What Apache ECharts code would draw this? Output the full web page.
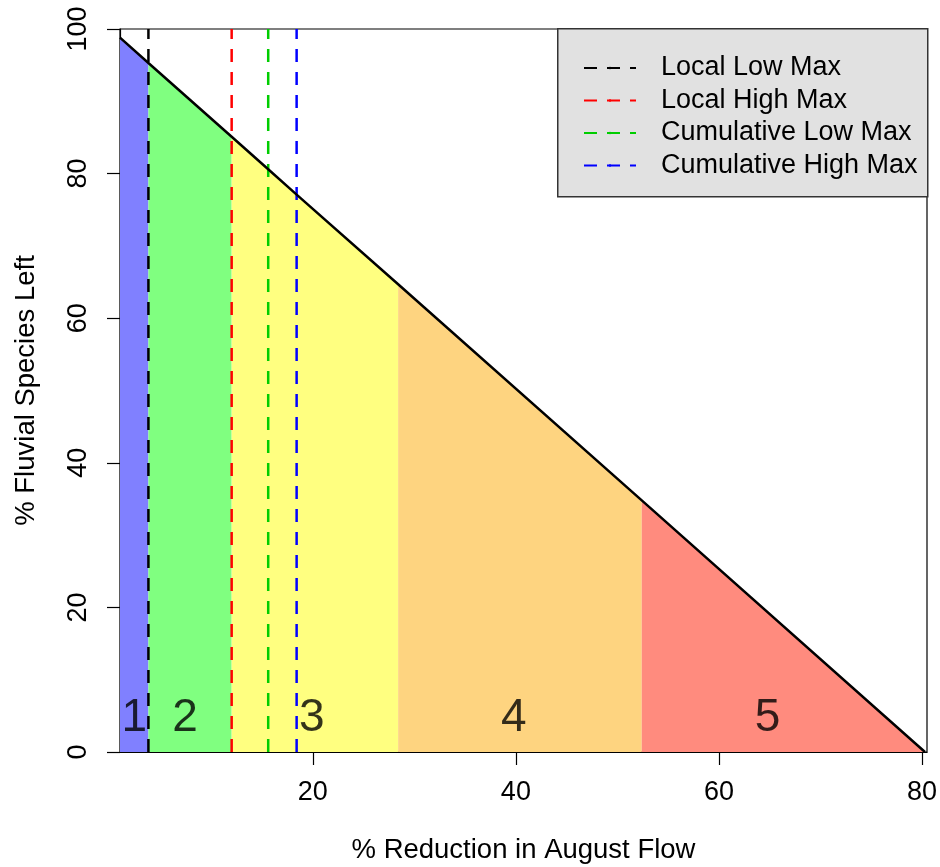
<!DOCTYPE html>
<html>
<head>
<meta charset="utf-8">
<script src="https://cdn.jsdelivr.net/npm/echarts@6/dist/echarts.min.js"></script>
<style>html,body{margin:0;padding:0;background:#fff}#c{width:940px;height:867px}</style>
</head>
<body>
<div id="c"></div>
<script>
// Curve of % species left vs % flow reduction
const curveX = [1, 3.8, 12.0, 15.6, 18.4, 28.4, 52.4, 80.3];
const curveY = [98.8, 95.3, 85.1, 80.6, 77.1, 64.7, 34.8, 0];
// Zone boundaries and colours
const zoneBreaks = [1, 3.8, 12.0, 28.4, 52.4, 80.3];
const zoneColors = ['#8080FF', '#80FF80', '#FFFF80', '#FED480', '#FF8B7E'];
const zoneLabels = ['1', '2', '3', '4', '5'];
const zoneLabelX = [2.4, 7.4, 19.9, 39.8, 64.8];
const zoneLabelY = [4.7, 4.7, 4.7, 4.7, 4.7];
// Reference dashed lines
const refNames = ['Local Low Max', 'Local High Max', 'Cumulative Low Max', 'Cumulative High Max'];
const refX = [3.8, 12.0, 15.6, 18.4];
const refColors = ['#000000', '#FF0000', '#00CD00', '#0000FF'];
// Axis ticks
const xTicks = [20, 40, 60, 80];
const yTicks = [0, 20, 40, 60, 80, 100];

const FONT = '"Liberation Sans", Arial, sans-serif';
const chart = echarts.init(document.getElementById('c'));

const curve = curveX.map((x, i) => [x, curveY[i]]);
const series = [];
zoneColors.forEach((col, i) => {
  const lo = zoneBreaks[i], hi = zoneBreaks[i + 1];
  series.push({
    type: 'line', z: 1, silent: true, symbol: 'none',
    data: curve.filter(p => p[0] >= lo && p[0] <= hi),
    lineStyle: { width: 0 },
    areaStyle: { color: col, opacity: 1 }
  });
});
const dashIcon = 'path://M0,0H15V3H0Z M21,0H36V3H21Z M49,0H52V3H49Z';
refNames.forEach((n, i) => {
  series.push({
    name: n, type: 'line', z: 3, symbol: 'none', legendIcon: dashIcon,
    data: [[refX[i], 0], [refX[i], 100]],
    lineStyle: { color: refColors[i], width: 2.5, type: [13, 10] },
    itemStyle: { color: refColors[i] }
  });
});
series.push({
  type: 'line', z: 4, symbol: 'none', data: curve,
  lineStyle: { color: '#000', width: 2.5 }
});
series.push({
  type: 'scatter', z: 5, symbolSize: 0,
  data: zoneLabelX.map((x, i) => ({ value: [x, zoneLabelY[i]], name: zoneLabels[i] })),
  label: { show: true, position: 'inside', formatter: p => p.name, fontSize: 46, color: '#000', fontFamily: FONT }
});

chart.setOption({
  animation: false,
  backgroundColor: '#fff',
  grid: { left: 120, right: 13, top: 29, bottom: 115, outerBoundsMode: 'none', containLabel: false,
          show: true, borderColor: '#000', borderWidth: 1.2, backgroundColor: 'transparent' },
  xAxis: {
    type: 'value', min: 1, max: 80.5,
    name: '% Reduction in August Flow', nameLocation: 'middle', nameGap: 84,
    nameTextStyle: { fontSize: 27.5, color: '#000', fontFamily: FONT },
    axisLine: { show: true, onZero: false, lineStyle: { color: '#000', width: 1.2 } },
    axisTick: { show: true, length: 13, customValues: xTicks, lineStyle: { color: '#000', width: 1.2 } },
    axisLabel: { customValues: xTicks, fontSize: 27, color: '#000', margin: 27, fontFamily: FONT },
    splitLine: { show: false }
  },
  yAxis: {
    type: 'value', min: 0, max: 100, interval: 20,
    name: '% Fluvial Species Left', nameLocation: 'middle', nameGap: 80,
    nameTextStyle: { fontSize: 27.5, color: '#000', fontFamily: FONT },
    axisLine: { show: true, lineStyle: { color: '#000', width: 1.2 } },
    axisTick: { show: true, length: 13, lineStyle: { color: '#000', width: 1.2 } },
    axisLabel: { rotate: 90, fontSize: 27, color: '#000', margin: 28, fontFamily: FONT },
    splitLine: { show: false }
  },
  graphic: [{
    type: 'rect', z: 50, left: 557, top: 28,
    shape: { width: 370, height: 168 },
    style: { fill: '#E1E1E1', stroke: '#333', lineWidth: 1.5 }
  }],
  legend: {
    z: 60, orient: 'vertical', left: 583, top: 53, padding: 0,
    data: refNames, itemWidth: 52, itemHeight: 3, itemGap: 2.5,
    textStyle: { fontSize: 27, color: '#000', fontFamily: FONT, lineHeight: 30, padding: [0, 0, 0, 20] },
    selectedMode: false
  },
  series: series
});
</script>
</body>
</html>
